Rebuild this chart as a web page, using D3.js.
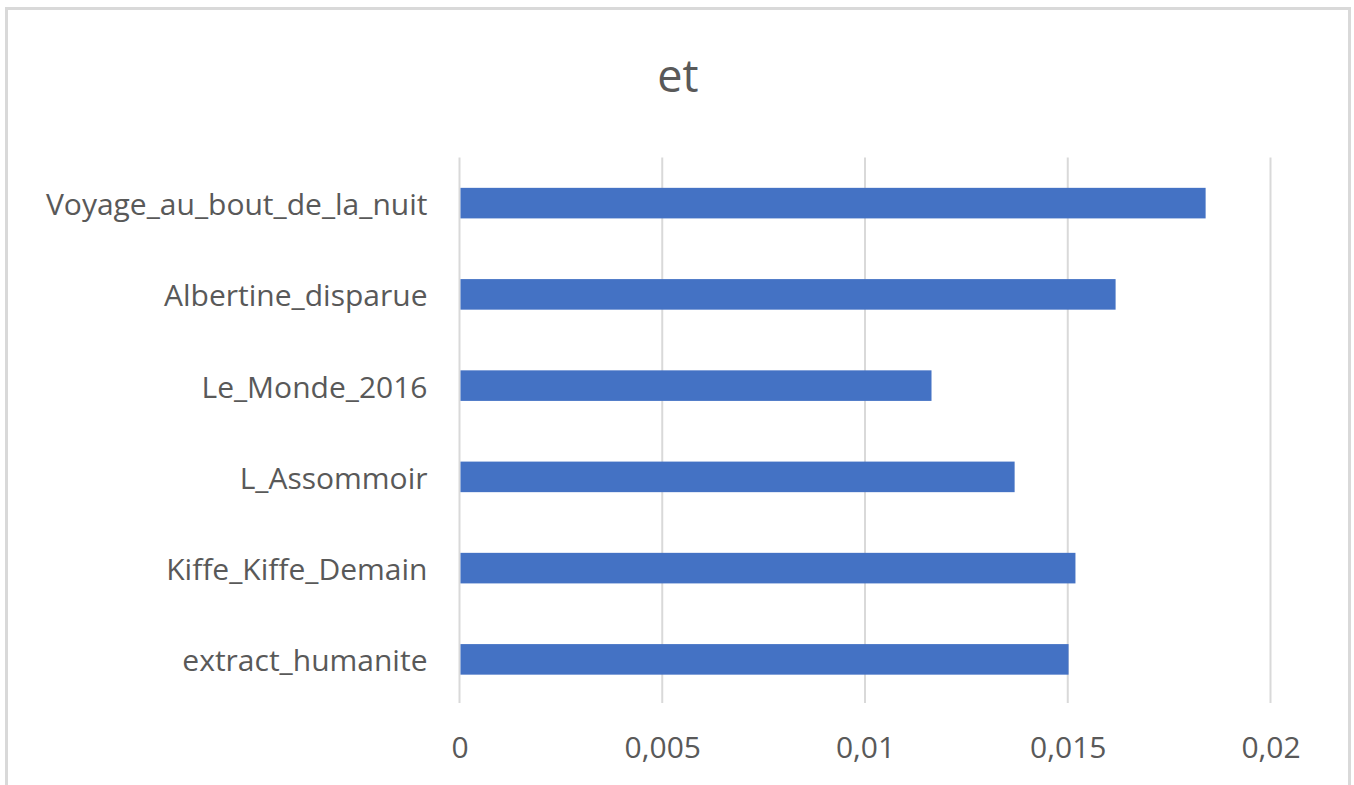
<!DOCTYPE html>
<html><head><meta charset="utf-8">
<script src="https://cdn.jsdelivr.net/npm/d3@7"></script>
<style>body{margin:0;background:#fff}svg{display:block}</style>
</head><body>
<svg id="c" width="1354" height="785"></svg>
<script>
const categories = ["Voyage_au_bout_de_la_nuit","Albertine_disparue","Le_Monde_2016","L_Assommoir","Kiffe_Kiffe_Demain","extract_humanite"];
const values = [0.01840,0.01618,0.01164,0.01369,0.01519,0.01502];
const ticks = [0,0.005,0.01,0.015,0.02];
const tickLabels = ["0","0,005","0,01","0,015","0,02"];
const title = "et";

const svg = d3.select("#c");
const font = "'Open Sans', 'Segoe UI', sans-serif";
svg.append("rect").attr("x",6.5).attr("y",8.5).attr("width",1343).attr("height",800)
  .attr("fill","#fff").attr("stroke","#d9d9d9").attr("stroke-width",3);

const L=459.5, R=1270.5, T=157.5, B=705;
const x = d3.scaleLinear().domain([0,0.02]).range([L,R]);
const y = d3.scaleBand().domain(categories).range([T,B]).paddingInner(0.665).paddingOuter(0.3325);

svg.append("text").attr("x",678).attr("y",92).attr("text-anchor","middle")
  .attr("font-family",font).attr("font-size",45).attr("fill","#595959").text(title);

const g = svg.append("g");
g.selectAll("line.grid").data(ticks).join("line").attr("class","grid")
  .attr("x1",d=>x(d)).attr("x2",d=>x(d)).attr("y1",T).attr("y2",703)
  .attr("stroke","#d9d9d9").attr("stroke-width",2);

g.selectAll("rect.bar").data(values).join("rect").attr("class","bar")
  .attr("x",x(0)+1).attr("y",(d,i)=>y(categories[i]))
  .attr("width",d=>x(d)-x(0)-1).attr("height",y.bandwidth())
  .attr("fill","#4472c4");

const xa = d3.axisBottom(x).tickValues(ticks).tickFormat((d,i)=>tickLabels[i]).tickSize(0).tickPadding(0);
const xg = svg.append("g").attr("transform","translate(0,758)").call(xa);
xg.select(".domain").remove();
xg.selectAll("text").attr("font-family",font).attr("font-size",30).attr("fill","#595959").attr("dy",0);

const ya = d3.axisLeft(y).tickSize(0).tickPadding(32);
const yg = svg.append("g").attr("transform",`translate(${L},0)`).call(ya);
yg.select(".domain").remove();
yg.selectAll("text").attr("font-family",font).attr("font-size",30).attr("fill","#595959").attr("dy","0.4em");
</script>
</body></html>
